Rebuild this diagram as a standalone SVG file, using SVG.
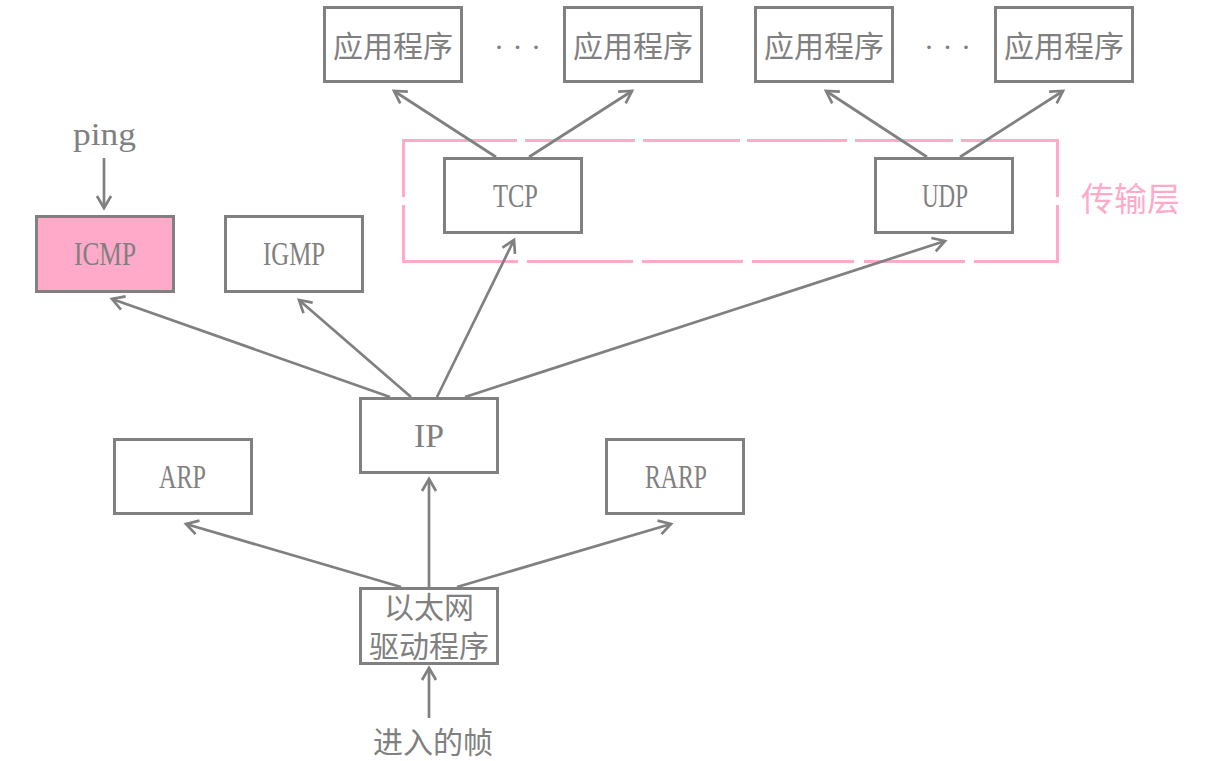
<svg xmlns="http://www.w3.org/2000/svg" width="1207" height="761" viewBox="0 0 1207 761">
<style>
.box{fill:#ffffff;stroke:#808080;stroke-width:3}
.hl{fill:#ffaac9}
.lat{font-family:"Liberation Serif","DejaVu Serif",serif;font-size:34px;fill:#808080}
.cjk{font-family:"Liberation Sans","Noto Sans CJK SC",sans-serif;font-size:30px;fill:#808080;text-anchor:middle}
.dots{font-family:"Liberation Serif",serif;font-size:30px;fill:#808080;letter-spacing:8.5px}
.con line{stroke:#808080;stroke-width:2.7;marker-end:url(#ah)}
.layer{fill:none;stroke:#ffaac9;stroke-width:3}
</style>
<defs>
<marker id="ah" markerUnits="userSpaceOnUse" markerWidth="30" markerHeight="30" viewBox="-15 -15 30 30" refX="0" refY="0" orient="auto">
<path d="M-12,-7 L0,0 L-12,7" fill="none" stroke="#808080" stroke-width="2.7"/>
</marker>
</defs>
<rect width="1207" height="761" fill="#ffffff"/>

<g id="transport-layer">
<path class="layer" d="M402,140.5H517M525,140.5H635M643,140.5H740M747,140.5H847M855,140.5H953M961,140.5H1059 M402,261.5H518M527,261.5H633M642,261.5H743M752,261.5H854M864,261.5H965M974,261.5H1059 M403.5,139V197M403.5,205V263 M1057.5,139V197M1057.5,205V263"/>
<text x="1081" y="211" style="font-family:'Liberation Sans','Noto Sans CJK SC',sans-serif;font-size:33px;fill:#ffaac9">传输层</text>
</g>

<g id="app1"><rect class="box" x="324.5" y="7.5" width="137" height="74"/><text class="cjk" x="393" y="57">应用程序</text></g>
<g id="app2"><rect class="box" x="564.5" y="7.5" width="137" height="74"/><text class="cjk" x="633" y="57">应用程序</text></g>
<g id="app3"><rect class="box" x="755.5" y="7.5" width="137" height="74"/><text class="cjk" x="824" y="57">应用程序</text></g>
<g id="app4"><rect class="box" x="995.5" y="7.5" width="137" height="74"/><text class="cjk" x="1064" y="57">应用程序</text></g>
<g id="dots1"><text class="dots" x="494" y="57">···</text></g>
<g id="dots2"><text class="dots" x="924" y="57">···</text></g>

<g id="tcp"><rect class="box" x="444.5" y="158.5" width="137" height="74"/><text class="lat" x="493" y="207" textLength="45" lengthAdjust="spacingAndGlyphs">TCP</text></g>
<g id="udp"><rect class="box" x="875.5" y="158.5" width="137" height="74"/><text class="lat" x="922" y="207" textLength="46" lengthAdjust="spacingAndGlyphs">UDP</text></g>

<g id="ping"><text class="lat" x="73" y="145" textLength="63" lengthAdjust="spacingAndGlyphs" style="font-size:32px">ping</text></g>
<g id="icmp"><rect class="box hl" x="36.5" y="216.5" width="137" height="75"/><text class="lat" x="74" y="265" textLength="62" lengthAdjust="spacingAndGlyphs">ICMP</text></g>
<g id="igmp"><rect class="box" x="225.5" y="216.5" width="137" height="75"/><text class="lat" x="263" y="265" textLength="62" lengthAdjust="spacingAndGlyphs">IGMP</text></g>

<g id="ip"><rect class="box" x="360.5" y="398.5" width="137" height="74"/><text class="lat" x="414" y="447" textLength="30" lengthAdjust="spacingAndGlyphs">IP</text></g>
<g id="arp"><rect class="box" x="114.5" y="439.5" width="137" height="74"/><text class="lat" x="159" y="488" textLength="47" lengthAdjust="spacingAndGlyphs">ARP</text></g>
<g id="rarp"><rect class="box" x="606.5" y="439.5" width="137" height="74"/><text class="lat" x="645" y="488" textLength="62" lengthAdjust="spacingAndGlyphs">RARP</text></g>

<g id="ethernet"><rect class="box" x="360.5" y="588.5" width="137" height="75"/><text class="cjk" x="429" y="618">以太网</text><text class="cjk" x="429" y="657">驱动程序</text></g>
<g id="frames"><text class="cjk" x="433" y="753">进入的帧</text></g>

<g id="connectors" class="con">
<line x1="104" y1="158" x2="104" y2="208"/>
<line x1="496" y1="157" x2="394" y2="91"/>
<line x1="529" y1="157" x2="632" y2="91"/>
<line x1="927" y1="157" x2="826" y2="91"/>
<line x1="960" y1="157" x2="1063" y2="91"/>
<line x1="390" y1="397" x2="112" y2="299"/>
<line x1="411" y1="397" x2="299" y2="300"/>
<line x1="437" y1="397" x2="514" y2="240"/>
<line x1="465" y1="397" x2="945" y2="241"/>
<line x1="401" y1="587" x2="186" y2="524"/>
<line x1="429" y1="587" x2="429" y2="479"/>
<line x1="457" y1="587" x2="671" y2="524"/>
<line x1="429" y1="718" x2="429" y2="668"/>
</g>
</svg>
